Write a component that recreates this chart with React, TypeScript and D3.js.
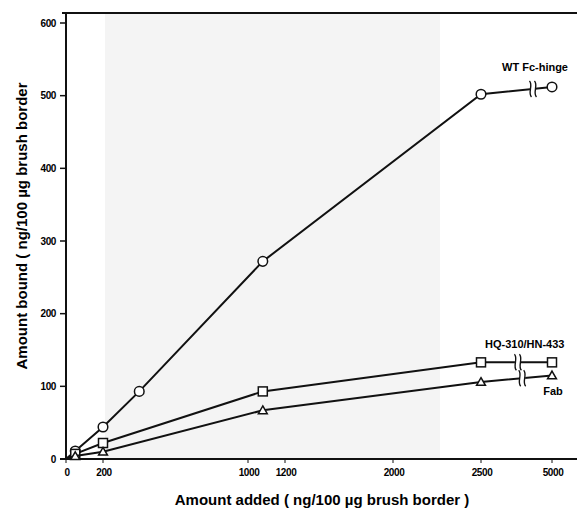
import React from "react";
import * as d3 from "d3";

const xTickValues = [0, 200, 1000, 1200, 2000, 2500, 5000];
const xTickLabels = ["0", "200", "1000", "1200", "2000", "2500", "5000"];
const yTickValues = [0, 100, 200, 300, 400, 500, 600];

const amountAdded = [50, 200, 400, 1080, 2500, 5000];
const wtFcHinge = [11, 44, 93, 272, 502, 512];
const hqAdded = [50, 200, 1080, 2500, 5000];
const hqHn = [7, 22, 93, 133, 133];
const fabAdded = [50, 200, 1080, 2500, 5000];
const fab = [4, 10, 67, 106, 115];

const W = 577;
const H = 509;

const x = d3
  .scaleLinear()
  .domain(xTickValues)
  .range([66, 103, 248, 285, 393, 481, 552]);
const y = d3.scaleLinear().domain([0, 600]).range([459, 23]);

type Series = {
  name: string;
  xs: number[];
  ys: number[];
  marker: "circle" | "square" | "triangle";
  breakAt: number;
};

const series: Series[] = [
  { name: "WT Fc-hinge", xs: amountAdded, ys: wtFcHinge, marker: "circle", breakAt: 4330 },
  { name: "HQ-310/HN-433", xs: hqAdded, ys: hqHn, marker: "square", breakAt: 3800 },
  { name: "Fab", xs: fabAdded, ys: fab, marker: "triangle", breakAt: 3950 },
];

const font = "'Liberation Sans', Arial, sans-serif";

function Marker({ kind, cx, cy }: { kind: string; cx: number; cy: number }) {
  const common = { fill: "white", stroke: "#111", strokeWidth: 1.5 };
  if (kind === "circle") return <circle cx={cx} cy={cy} r={4.8} {...common} />;
  if (kind === "square")
    return <rect x={cx - 4.5} y={cy - 4.5} width={9} height={9} {...common} />;
  const tri = d3.symbol().type(d3.symbolTriangle).size(34)();
  return <path d={tri as string} transform={`translate(${cx},${cy + 0.8})`} {...common} />;
}

function BreakMark({ xs, ys, at }: { xs: number[]; ys: number[]; at: number }) {
  const n = xs.length;
  const x0 = x(xs[n - 2]);
  const x1 = x(xs[n - 1]);
  const y0 = y(ys[n - 2]);
  const y1 = y(ys[n - 1]);
  const bx = x(at);
  const t = (bx - x0) / (x1 - x0);
  const by = y0 + (y1 - y0) * t;
  const wave = (dx: number) =>
    `M${bx + dx - 1},${by - 8} C${bx + dx + 3},${by - 4} ${bx + dx - 3},${by + 4} ${bx + dx + 1},${by + 8}`;
  return (
    <g>
      <rect x={bx - 3} y={by - 3} width={6} height={6} fill="white" />
      <path d={wave(-2.5)} fill="none" stroke="#111" strokeWidth={1.4} />
      <path d={wave(2.5)} fill="none" stroke="#111" strokeWidth={1.4} />
    </g>
  );
}

export default function App() {
  const line = d3
    .line<[number, number]>()
    .x((d) => x(d[0]))
    .y((d) => y(d[1]));

  return (
    <svg
      width={W}
      height={H}
      style={{ position: "absolute", left: 0, top: 0, background: "white" }}
      fontFamily={font}
    >
      <rect x={105} y={14} width={335} height={445} fill="#f4f4f4" />
      {/* top border */}
      <line x1={62} x2={W} y1={13} y2={13} stroke="#111" strokeWidth={2} />
      {/* y axis */}
      <line x1={66} x2={66} y1={12} y2={460} stroke="#111" strokeWidth={2} />
      {yTickValues.map((v) => (
        <g key={v}>
          <line x1={60} x2={66} y1={y(v)} y2={y(v)} stroke="#111" strokeWidth={1.5} />
          <text
            x={56}
            y={y(v) + 3.5}
            textAnchor="end"
            fontSize={10}
            fontWeight="bold"
            letterSpacing={-0.4}
          >
            {v}
          </text>
        </g>
      ))}
      {/* x axis */}
      <line x1={60} x2={W} y1={459} y2={459} stroke="#111" strokeWidth={2} />
      {xTickValues.map((v, i) => (
        <g key={v}>
          <line x1={x(v)} x2={x(v)} y1={459} y2={463} stroke="#111" strokeWidth={1} />
          <text
            x={x(v) + 1}
            y={476}
            textAnchor="middle"
            fontSize={10}
            fontWeight="bold"
            letterSpacing={-0.4}
          >
            {xTickLabels[i]}
          </text>
        </g>
      ))}
      {/* series */}
      {series.map((s) => {
        const pts: [number, number][] = [[0, 0], ...s.xs.map((v, i) => [v, s.ys[i]] as [number, number])];
        return (
          <g key={s.name}>
            <path d={line(pts) as string} fill="none" stroke="#111" strokeWidth={2} />
            <BreakMark xs={s.xs} ys={s.ys} at={s.breakAt} />
            {s.xs.map((v, i) => (
              <Marker key={i} kind={s.marker} cx={x(v)} cy={y(s.ys[i])} />
            ))}
          </g>
        );
      })}
      {/* labels */}
      <text x={502} y={71} fontSize={11} fontWeight="bold">WT Fc-hinge</text>
      <text x={485} y={348} fontSize={11} fontWeight="bold">HQ-310/HN-433</text>
      <text x={553} y={395} fontSize={11} fontWeight="bold" textAnchor="middle">Fab</text>
      {/* axis titles */}
      <text
        transform="translate(27,226) rotate(-90)"
        textAnchor="middle"
        fontSize={15}
        fontWeight="bold"
      >
        Amount bound ( ng/100 µg brush border
      </text>
      <text x={322} y={505} textAnchor="middle" fontSize={15} fontWeight="bold">
        Amount added ( ng/100 µg brush border )
      </text>
    </svg>
  );
}
